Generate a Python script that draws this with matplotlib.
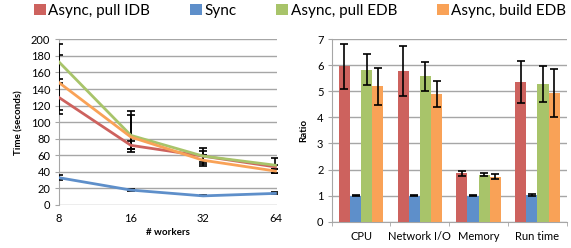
import numpy as np
import matplotlib
matplotlib.use("Agg")
import matplotlib.pyplot as plt
from matplotlib.patches import Patch

plt.rcParams['font.family'] = ['Lato', 'DejaVu Sans']

# series names and colours
series = ["Async, pull IDB", "Sync", "Async, pull EDB", "Async, build EDB"]
colors = ["#CD625E", "#5E8FCA", "#A8C46A", "#F9A257"]

# left chart: time vs workers
workers = ["8", "16", "32", "64"]
time_vals = {
    "Async, pull IDB": [130, 72, 59, 46],
    "Sync": [33, 18, 11, 14],
    "Async, pull EDB": [173, 84, 59, 48],
    "Async, build EDB": [148, 82, 54, 41],
}
time_err_lo = {
    "Async, pull IDB": [20, 5, 7, 2],
    "Sync": [3, 1, 0.5, 1],
    "Async, pull EDB": [21, 20, 9.5, 9],
    "Async, build EDB": [33, 14, 6.5, 2],
}
time_err_hi = {
    "Async, pull IDB": [17, 5, 6, 2],
    "Sync": [3, 1, 0.5, 2],
    "Async, pull EDB": [21, 30, 9.5, 9],
    "Async, build EDB": [33, 27, 6.5, 2],
}

# right chart: ratios
metrics = ["CPU", "Network I/O", "Memory", "Run time"]
ratio_vals = {
    "Async, pull IDB": [5.95, 5.78, 1.85, 5.35],
    "Sync": [1.0, 1.0, 1.0, 1.03],
    "Async, pull EDB": [5.83, 5.57, 1.80, 5.27],
    "Async, build EDB": [5.19, 4.89, 1.72, 4.92],
}
ratio_err = {
    "Async, pull IDB": [0.87, 0.95, 0.10, 0.82],
    "Sync": [0.01, 0.01, 0.01, 0.05],
    "Async, pull EDB": [0.60, 0.55, 0.06, 0.70],
    "Async, build EDB": [0.70, 0.50, 0.10, 0.92],
}

grid_c = "#A6A6A6"
fig = plt.figure(figsize=(5.71, 2.48), dpi=100)

# ---- left: line chart
ax1 = fig.add_axes([0.1028, 0.1734, 0.382, 0.6681])
x = np.arange(len(workers))
for name, c in zip(series, colors):
    ax1.errorbar(x, time_vals[name], yerr=[time_err_lo[name], time_err_hi[name]],
                 color=c, lw=2, ecolor="black", elinewidth=1.2, capsize=3,
                 capthick=1.2, zorder=3)
ax1.set_xlim(0, 3.02)
ax1.set_ylim(0, 200)
ax1.set_yticks(np.arange(0, 201, 20))
ax1.set_xticks(x)
ax1.set_xticklabels(workers)
ax1.yaxis.grid(True, color=grid_c, lw=1)
ax1.set_axisbelow(True)
for s in ["top", "right", "bottom"]:
    ax1.spines[s].set_visible(False)
ax1.spines["left"].set_color(grid_c)
ax1.tick_params(axis="y", length=3, color=grid_c, labelsize=8, pad=3)
ax1.tick_params(axis="x", length=0, labelsize=8, pad=6)
ax1.set_ylabel("Time (seconds)", fontsize=7, fontweight="bold", labelpad=5)
ax1.set_xlabel("# workers", fontsize=7, fontweight="bold", labelpad=3)

# ---- right: bar chart
ax2 = fig.add_axes([0.581, 0.106, 0.4115, 0.7367])
xc = np.arange(len(metrics))
w = 0.19
for k, (name, c) in enumerate(zip(series, colors)):
    ax2.bar(xc + (k - 1.5) * w, ratio_vals[name], w, color=c,
            yerr=ratio_err[name], ecolor="black",
            error_kw=dict(elinewidth=1.2, capsize=3, capthick=1.2), zorder=3)
ax2.set_xlim(-0.5, 3.5)
ax2.set_ylim(0, 7)
ax2.set_yticks(np.arange(0, 8, 1))
ax2.set_xticks(xc)
ax2.set_xticklabels(metrics)
ax2.set_xticks(np.arange(-0.5, 4, 1), minor=True)
ax2.yaxis.grid(True, color=grid_c, lw=1)
ax2.set_axisbelow(True)
for s in ["top", "right"]:
    ax2.spines[s].set_visible(False)
ax2.spines["left"].set_color(grid_c)
ax2.spines["bottom"].set_color(grid_c)
ax2.tick_params(axis="y", length=3, color=grid_c, labelsize=8, pad=3)
ax2.tick_params(axis="x", which="major", length=0, labelsize=8, pad=7)
ax2.tick_params(axis="x", which="minor", length=3, color=grid_c)
ax2.set_ylabel("Ratio", fontsize=7, fontweight="bold", labelpad=6)

# ---- legend
handles = [Patch(facecolor=c, edgecolor="none") for c in colors]
fig.legend(handles, series, loc="upper left", bbox_to_anchor=(0.048, 1.01),
           ncol=4, frameon=False, fontsize=11, handlelength=0.8,
           handleheight=0.8, handletextpad=0.15, columnspacing=2.6,
           borderaxespad=0)

fig.savefig("out.png", dpi=100)
